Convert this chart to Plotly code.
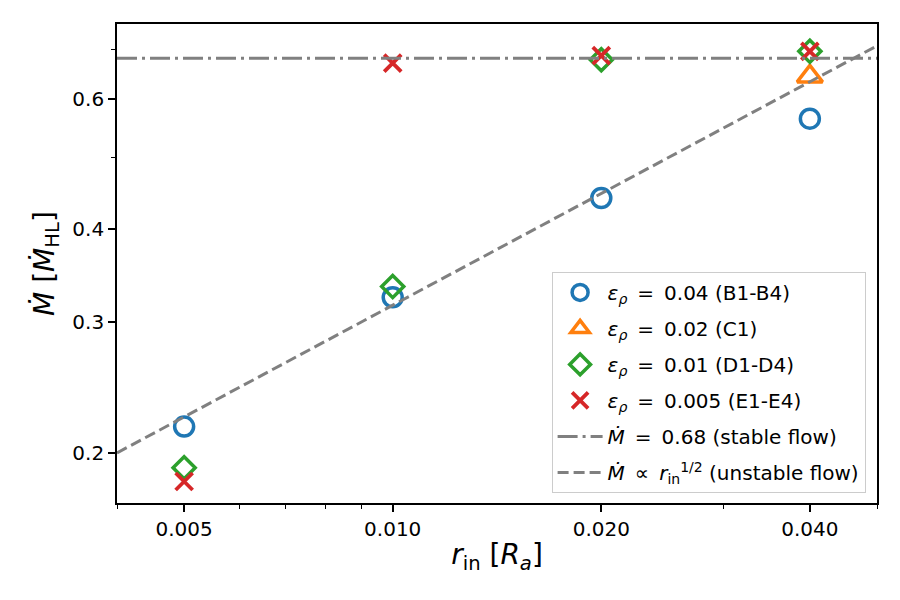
import numpy as np
import plotly.graph_objects as go

# ---- data ----
r_in = [0.005, 0.01, 0.02, 0.04]
mdot_B = [0.217, 0.324, 0.441, 0.564]
r_C = [0.04]
mdot_C = [0.643]
mdot_D = [0.191, 0.335, 0.677, 0.695]
mdot_E = [0.183, 0.670, 0.686, 0.695]

stable_x = [0.004, 0.05]
stable_y = [0.68, 0.68]
unstable_x = [0.004, 0.05]
unstable_y = [0.2, 0.707]

x_tickvals = [0.005, 0.01, 0.02, 0.04]
x_ticktext = ["0.005", "0.010", "0.020", "0.040"]
x_minor = [0.004, 0.006, 0.007, 0.008, 0.009, 0.03, 0.05]
y_tickvals = [0.2, 0.3, 0.4, 0.6]
y_ticktext = ["0.2", "0.3", "0.4", "0.6"]
y_minor = [0.5, 0.7]

x_range = [0.004, 0.05]
y_range = [0.1712, 0.7565]

FONT = "DejaVu Sans"
GRAY = "#808080"
EQ = "\u2002=\u2002"

fig = go.Figure()

fig.add_trace(go.Scatter(
    x=r_in, y=mdot_B, mode="markers", legendgroup="B",
    name=f"<i>ε<sub>ρ</sub></i>{EQ}0.04 (B1-B4)",
    marker=dict(symbol="circle-open", size=19, color="#1f77b4",
                line=dict(width=3.5, color="#1f77b4"))))
fig.add_trace(go.Scatter(
    x=r_C, y=mdot_C, mode="markers", legendgroup="C",
    name=f"<i>ε<sub>ρ</sub></i>{EQ}0.02 (C1)",
    marker=dict(symbol="triangle-up-open", size=22, color="#ff7f0e",
                line=dict(width=3.5, color="#ff7f0e"))))
fig.add_trace(go.Scatter(
    x=r_in, y=mdot_D, mode="markers", legendgroup="D",
    name=f"<i>ε<sub>ρ</sub></i>{EQ}0.01 (D1-D4)",
    marker=dict(symbol="diamond-open", size=17, color="#2ca02c",
                line=dict(width=3.5, color="#2ca02c"))))
fig.add_trace(go.Scatter(
    x=r_in, y=mdot_E, mode="markers", legendgroup="E",
    name=f"<i>ε<sub>ρ</sub></i>{EQ}0.005 (E1-E4)",
    marker=dict(symbol="x-thin", size=17, color="#d62728",
                line=dict(width=3.8, color="#d62728"))))
fig.add_trace(go.Scatter(
    x=stable_x, y=stable_y, mode="lines", legendgroup="S",
    name=f"<i>Ṁ</i>{EQ}0.68 (stable flow)",
    line=dict(color=GRAY, width=3, dash="20px,5px,3px,5px")))
fig.add_trace(go.Scatter(
    x=unstable_x, y=unstable_y, mode="lines", legendgroup="U",
    name="<i>Ṁ</i>\u2002∝\u2002<i>r</i><sub>in</sub><sup>1/2</sup> (unstable flow)",
    line=dict(color=GRAY, width=3, dash="11px,5px")))

axis_common = dict(
    type="log", showgrid=False, zeroline=False,
    showline=True, linecolor="black", linewidth=1.7, mirror=True,
    ticks="outside", ticklen=7, tickwidth=1.5, tickcolor="black",
    tickfont=dict(family=FONT, size=20, color="black"),
)

fig.update_xaxes(
    **axis_common,
    range=[np.log10(x_range[0]), np.log10(x_range[1])],
    tickmode="array", tickvals=x_tickvals, ticktext=x_ticktext,
    minor=dict(tickmode="array", tickvals=x_minor, ticklen=4,
               tickwidth=1.2, tickcolor="black", ticks="outside", showgrid=False),
    title=dict(text="<i>r</i><sub>in</sub> [<i>R<sub>a</sub></i>]",
               font=dict(family=FONT, size=28, color="black"), standoff=5),
)
fig.update_yaxes(
    **axis_common,
    range=[np.log10(y_range[0]), np.log10(y_range[1])],
    tickmode="array", tickvals=y_tickvals, ticktext=y_ticktext,
    minor=dict(tickmode="array", tickvals=y_minor, ticklen=4,
               tickwidth=1.2, tickcolor="black", ticks="outside", showgrid=False),
    title=dict(text="<i>Ṁ</i> [<i>Ṁ</i><sub>HL</sub>]",
               font=dict(family=FONT, size=28, color="black"), standoff=10),
)

fig.update_layout(
    width=900, height=600,
    margin=dict(l=117, r=23, t=24, b=97),
    paper_bgcolor="white", plot_bgcolor="white",
    font=dict(family=FONT, color="black"),
    legend=dict(
        x=0.985, y=0.021, xanchor="right", yanchor="bottom",
        bgcolor="rgba(255,255,255,0.85)", bordercolor="#cccccc", borderwidth=1,
        font=dict(family=FONT, size=20, color="black"),
        traceorder="grouped", tracegroupgap=7, itemwidth=45,
    ),
)

fig.write_html("out.html")
